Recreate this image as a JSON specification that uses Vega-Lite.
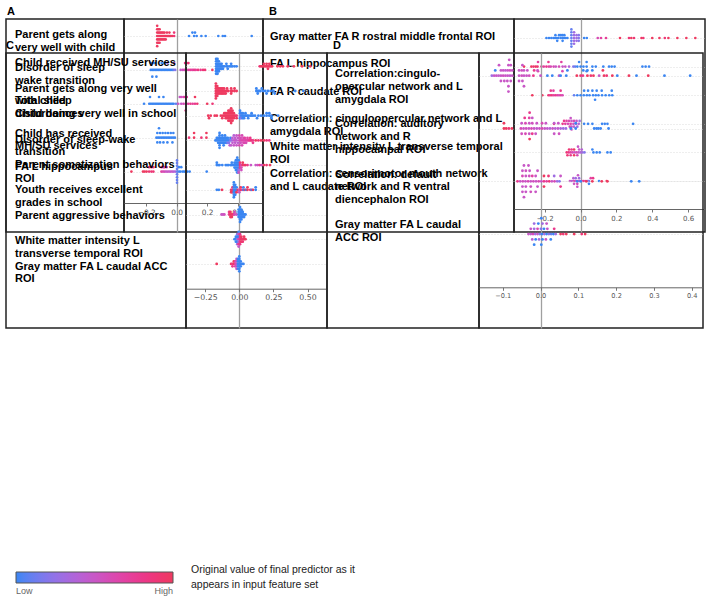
{
"$schema":"https://vega.github.io/schema/vega-lite/v6.json",
"background":"white",
"padding":5,
"bounds":"flush",
"spacing":34,
"config":{"view":{"stroke":"#222","strokeWidth":1.5},"title":{"fontSize":11,"fontWeight":"bold","font":"Liberation Sans","anchor":"start","offset":2,"color":"#000"}},
"vconcat":[
{"hconcat":[
{"width":118,"height":213,"title":{"text":"A","dx":1},"data":{"values":[{"f":10,"t":"Parent gets along\nvery well with child"},{"f":20,"t":"Disorder of sleep\nwake transition"},{"f":30,"t":"Total sleep\ndisturbances"},{"f":40,"t":"Child has received\nMH/SU services"},{"f":50,"t":"FA L hippocampus\nROI"}]},
 "mark":{"type":"text","align":"left","baseline":"alphabetic","dx":9,"fontSize":11,"fontWeight":"bold","font":"Liberation Sans","lineBreak":"\n","lineHeight":12.5,"color":"#000"},
 "encoding":{"x":{"value":0},"y":{"field":"f","type":"quantitative","scale":{"domain":[4.134,68.88],"reverse":true,"nice":false,"zero":false},"axis":null},"text":{"field":"t"}}},
{"width":139,"height":213,"data":{"values":[
{"v":-0.128,"y":7,"c":1},{"v":-0.128,"y":8,"c":1},{"v":-0.128,"y":9,"c":1},{"v":-0.128,"y":10,"c":1},{"v":-0.128,"y":11,"c":1},{"v":-0.128,"y":12,"c":1},{"v":-0.128,"y":13,"c":1},
{"v":-0.12,"y":8,"c":1},{"v":-0.12,"y":9,"c":1},{"v":-0.12,"y":10,"c":1},{"v":-0.12,"y":11,"c":1},{"v":-0.12,"y":12,"c":1},
{"v":-0.112,"y":8,"c":1},{"v":-0.112,"y":9,"c":1},{"v":-0.112,"y":10,"c":1},{"v":-0.112,"y":11,"c":1},{"v":-0.112,"y":12,"c":1},
{"v":-0.104,"y":9,"c":1},{"v":-0.104,"y":10,"c":1},{"v":-0.104,"y":11,"c":1},
{"v":-0.096,"y":9,"c":1},{"v":-0.096,"y":10,"c":1},{"v":-0.096,"y":11,"c":1},
{"v":-0.088,"y":9,"c":1},{"v":-0.088,"y":10,"c":1},{"v":-0.088,"y":11,"c":1},
{"v":-0.08,"y":9,"c":1},{"v":-0.08,"y":10,"c":1},{"v":-0.08,"y":11,"c":1},
{"v":-0.072,"y":10,"c":1},{"v":-0.072,"y":11,"c":1},{"v":-0.064,"y":9,"c":1},{"v":-0.064,"y":10,"c":1},{"v":-0.056,"y":10,"c":1},{"v":-0.048,"y":9,"c":1},{"v":-0.048,"y":10,"c":1},{"v":-0.04,"y":10,"c":1},{"v":-0.03,"y":10,"c":1},{"v":-0.017,"y":9,"c":0.9},{"v":-0.017,"y":10,"c":0.9},
{"v":0.081,"y":10,"c":0},{"v":0.103,"y":9,"c":0},{"v":0.114,"y":10,"c":0},{"v":0.12,"y":9,"c":0},{"v":0.131,"y":10,"c":0},{"v":0.162,"y":10,"c":0},{"v":0.19,"y":10,"c":0},{"v":0.273,"y":10,"c":0},{"v":0.302,"y":10,"c":0},{"v":0.317,"y":10,"c":0},{"v":0.492,"y":10,"c":0},
{"v":-0.17,"y":18,"c":0},{"v":-0.157,"y":18,"c":0},{"v":-0.144,"y":18,"c":0},{"v":-0.098,"y":18,"c":0},{"v":-0.083,"y":18,"c":0},{"v":-0.061,"y":18,"c":0.3},{"v":-0.017,"y":18,"c":0.5},{"v":0.055,"y":18,"c":0.8},{"v":0.066,"y":18,"c":0.8},{"v":0.077,"y":18,"c":0.9},
{"v":-0.17,"y":20,"c":0},{"v":-0.16,"y":20,"c":0},{"v":-0.15,"y":20,"c":0},{"v":-0.14,"y":20,"c":0},{"v":-0.13,"y":20,"c":0},{"v":-0.12,"y":20,"c":0},{"v":-0.11,"y":20,"c":0},{"v":-0.1,"y":20,"c":0},{"v":-0.09,"y":20,"c":0},{"v":-0.08,"y":20,"c":0},{"v":-0.07,"y":20,"c":0},{"v":-0.06,"y":20,"c":0},{"v":-0.05,"y":20,"c":0},{"v":-0.04,"y":20,"c":0},{"v":-0.03,"y":20,"c":0},{"v":-0.02,"y":20,"c":0.1},{"v":-0.01,"y":20,"c":0.2},
{"v":0.026,"y":20,"c":0.5},{"v":0.04,"y":20,"c":0.55},{"v":0.052,"y":20,"c":0.6},{"v":0.066,"y":20,"c":0.65},{"v":0.08,"y":20,"c":0.7},{"v":0.092,"y":20,"c":0.75},{"v":0.103,"y":20,"c":0.7},{"v":0.114,"y":20,"c":0.8},{"v":0.125,"y":20,"c":0.75},{"v":0.14,"y":20,"c":0.85},{"v":0.157,"y":20,"c":0.8},{"v":0.173,"y":20,"c":0.9},{"v":0.186,"y":20,"c":0.9},{"v":0.234,"y":20,"c":1},
{"v":-0.16,"y":22,"c":0},{"v":-0.133,"y":22,"c":0},
{"v":-0.175,"y":28,"c":0},{"v":-0.116,"y":28,"c":0},{"v":-0.087,"y":28,"c":0},{"v":0.02,"y":28,"c":0.5},{"v":0.03,"y":28,"c":0.55},{"v":0.044,"y":28,"c":0.6},{"v":0.055,"y":28,"c":0.75},{"v":0.066,"y":28,"c":0.7},{"v":0.12,"y":28,"c":1},
{"v":-0.214,"y":30,"c":0},{"v":-0.18,"y":30,"c":0},{"v":-0.17,"y":30,"c":0},{"v":-0.16,"y":30,"c":0},{"v":-0.15,"y":30,"c":0},{"v":-0.14,"y":30,"c":0},{"v":-0.13,"y":30,"c":0},{"v":-0.12,"y":30,"c":0},{"v":-0.11,"y":30,"c":0},{"v":-0.1,"y":30,"c":0},{"v":-0.09,"y":30,"c":0},{"v":-0.08,"y":30,"c":0},{"v":-0.07,"y":30,"c":0},{"v":-0.06,"y":30,"c":0},{"v":-0.05,"y":30,"c":0},{"v":-0.04,"y":30,"c":0},{"v":-0.03,"y":30,"c":0},{"v":-0.02,"y":30,"c":0},{"v":-0.005,"y":30,"c":0.1},
{"v":0.01,"y":30,"c":0.5},{"v":0.03,"y":30,"c":0.5},{"v":0.045,"y":30,"c":0.6},{"v":0.06,"y":30,"c":0.6},{"v":0.075,"y":30,"c":0.7},{"v":0.09,"y":30,"c":0.8},{"v":0.105,"y":30,"c":0.75},{"v":0.12,"y":30,"c":0.8},{"v":0.135,"y":30,"c":0.9},{"v":0.2,"y":30,"c":1},{"v":0.235,"y":30,"c":0.9},
{"v":0.059,"y":32,"c":0.8},
{"v":-0.116,"y":37.2,"c":0},
{"v":-0.127,"y":38.6,"c":0},{"v":-0.109,"y":38.6,"c":0},{"v":-0.092,"y":38.6,"c":0},{"v":-0.074,"y":38.6,"c":0},{"v":-0.057,"y":38.6,"c":0},{"v":-0.039,"y":38.6,"c":0},{"v":-0.022,"y":38.6,"c":0},{"v":0.114,"y":38.6,"c":1},{"v":0.195,"y":38.6,"c":1},
{"v":-0.133,"y":40,"c":0},{"v":-0.122,"y":40,"c":0},{"v":-0.111,"y":40,"c":0},{"v":-0.1,"y":40,"c":0},{"v":-0.089,"y":40,"c":0},{"v":-0.078,"y":40,"c":0},{"v":-0.067,"y":40,"c":0},{"v":-0.056,"y":40,"c":0},{"v":-0.045,"y":40,"c":0},{"v":-0.034,"y":40,"c":0},{"v":-0.023,"y":40,"c":0},{"v":-0.012,"y":40,"c":0},{"v":0.081,"y":40,"c":0.9},{"v":0.114,"y":40,"c":1},{"v":0.162,"y":40,"c":0.9},{"v":0.195,"y":40,"c":1},
{"v":-0.127,"y":41.4,"c":0},{"v":-0.109,"y":41.4,"c":0},{"v":-0.087,"y":41.4,"c":0},{"v":-0.061,"y":41.4,"c":0},{"v":-0.028,"y":41.4,"c":0},
{"v":-0.297,"y":50,"c":1},{"v":-0.221,"y":50,"c":1},{"v":-0.21,"y":50,"c":1},{"v":-0.197,"y":50,"c":1},{"v":-0.181,"y":50,"c":0.9},{"v":-0.166,"y":50,"c":0.9},{"v":-0.153,"y":50,"c":0.9},{"v":-0.1,"y":50,"c":0.7},{"v":-0.09,"y":50,"c":0.6},{"v":-0.08,"y":50,"c":0.6},{"v":-0.07,"y":50,"c":0.5},{"v":-0.06,"y":50,"c":0.5},{"v":-0.05,"y":50,"c":0.5},{"v":-0.04,"y":50,"c":0.45},{"v":-0.03,"y":50,"c":0.5},{"v":-0.02,"y":50,"c":0.4},{"v":-0.01,"y":50,"c":0.4},{"v":0.015,"y":50,"c":0},{"v":0.025,"y":50,"c":0},{"v":0.04,"y":50,"c":0},{"v":0.05,"y":50,"c":0},{"v":0.07,"y":50,"c":0},{"v":0.085,"y":50,"c":0},{"v":0.197,"y":50,"c":0},
{"v":-0.181,"y":48.7,"c":0.9},{"v":-0.166,"y":48.7,"c":0.9},{"v":-0.153,"y":48.7,"c":0.9},{"v":-0.1,"y":48.7,"c":0.8},{"v":-0.087,"y":48.7,"c":0.8},{"v":-0.079,"y":48.7,"c":0.6},{"v":-0.066,"y":48.7,"c":0.6},{"v":0.015,"y":48.7,"c":0},{"v":0.03,"y":48.7,"c":0},
{"v":0.002,"y":46.7,"c":0.1},{"v":0.002,"y":47.5,"c":0.1},{"v":0.002,"y":48.3,"c":0.1},{"v":0.002,"y":49.2,"c":0.1},{"v":0.002,"y":50,"c":0.1},{"v":0.002,"y":50.8,"c":0.1},{"v":0.002,"y":51.7,"c":0.1},{"v":0.002,"y":52.5,"c":0.1},{"v":0.002,"y":53.3,"c":0.1}
 ]},"mark":{"type":"circle","size":7,"opacity":1},
  "encoding":{
   "x":{"field":"v","type":"quantitative","scale":{"domain":[-0.3456,0.566],"nice":false,"zero":false},"axis":{"offset":-29,"domain":true,"domainColor":"#666","grid":true,"gridColor":{"condition":{"test":"datum.value === 0","value":"#a0a0a0"},"value":"transparent"},"gridWidth":1.3,"tickSize":3,"tickColor":"#777","labelFontSize":7.4,"labelFont":"DejaVu Sans","labelColor":"#555","labelPadding":2,"values":[-0.2,0,0.2,0.4],"format":".1f","title":null}},
   "y":{"field":"y","type":"quantitative","scale":{"domain":[4.985,67.82],"reverse":true,"nice":false,"zero":false},"axis":{"values":[10,20,30,40,50],"labels":false,"ticks":false,"domain":false,"grid":true,"gridColor":"#d4d4d4","gridDash":[1,2],"gridWidth":0.8,"title":null}},
   "color":{"field":"c","type":"quantitative","scale":{"domain":[0,1],"range":["#3b86f2","#ee3a60"]},
    "legend":{"orient":"none","legendX":10,"legendY":553,"direction":"horizontal","gradientLength":157,"gradientThickness":11,"gradientStrokeColor":"#555","gradientStrokeWidth":1,"values":[0,1],"labelExpr":"datum.value < 0.5 ? '\u00a0\u00a0\u00a0Low' : 'High\u00a0\u00a0\u00a0'","labelFontSize":9,"labelFont":"Liberation Sans","labelColor":"#666","labelOffset":4,"title":["Original value of final predictor as it","appears in input feature set"],"titleOrient":"right","titleFontSize":10.5,"titleFontWeight":"normal","titleFont":"Liberation Sans","titleColor":"#222","titlePadding":17,"titleLineHeight":15}}
  }},
{"width":251,"height":213,"title":{"text":"B","dx":6},"data":{"values":[{"f":10,"t":"Gray matter FA R rostral middle frontal ROI"},{"f":20,"t":"FA L hippocampus ROI"},{"f":30,"t":"FA R caudate ROI"},{"f":40,"t":"Correlation: cinguloopercular network and L\namygdala ROI"},{"f":50,"t":"White matter intensity L transverse temporal\nROI"},{"f":60,"t":"Correlation: sensorimotor mouth network\nand L caudate ROI"}]},
 "mark":{"type":"text","align":"left","baseline":"alphabetic","dx":7,"fontSize":11,"fontWeight":"bold","font":"Liberation Sans","lineBreak":"\n","lineHeight":13,"color":"#000"},
 "encoding":{"x":{"value":0},"y":{"field":"f","type":"quantitative","scale":{"domain":[2.545,80.0],"reverse":true,"nice":false,"zero":false},"axis":null},"text":{"field":"t"}}},
{"width":191,"height":213,"data":{"values":[
{"v":-0.19,"y":10,"c":0},{"v":-0.176,"y":10,"c":0},{"v":-0.163,"y":10,"c":0},{"v":-0.151,"y":10,"c":0},{"v":-0.142,"y":10,"c":0},{"v":-0.133,"y":10,"c":0},{"v":-0.124,"y":10,"c":0},{"v":-0.111,"y":10,"c":0},{"v":-0.101,"y":10,"c":0},{"v":-0.092,"y":10,"c":0},{"v":-0.083,"y":10,"c":0},{"v":-0.073,"y":10,"c":0},
{"v":-0.14,"y":9,"c":0},{"v":-0.12,"y":9,"c":0},{"v":-0.11,"y":9,"c":0},{"v":-0.1,"y":9,"c":0},{"v":-0.09,"y":9,"c":0},{"v":-0.13,"y":11,"c":0},{"v":-0.1,"y":11,"c":0},
{"v":-0.051,"y":7,"c":0.1},{"v":-0.051,"y":8,"c":0.1},{"v":-0.051,"y":9,"c":0.1},{"v":-0.051,"y":10,"c":0.1},{"v":-0.051,"y":11,"c":0.1},{"v":-0.051,"y":12,"c":0.1},{"v":-0.051,"y":13,"c":0.1},
{"v":-0.036,"y":8,"c":0.3},{"v":-0.036,"y":9,"c":0.3},{"v":-0.036,"y":10,"c":0.3},{"v":-0.036,"y":11,"c":0.3},{"v":-0.036,"y":12,"c":0.3},
{"v":-0.022,"y":9,"c":0.3},{"v":-0.022,"y":10,"c":0.3},{"v":-0.022,"y":11,"c":0.3},{"v":-0.01,"y":9,"c":0.2},{"v":-0.01,"y":10,"c":0.2},{"v":-0.01,"y":11,"c":0.2},
{"v":0.02,"y":10,"c":0},{"v":0.035,"y":10,"c":0},{"v":0.096,"y":10,"c":0.6},{"v":0.114,"y":10,"c":0.7},{"v":0.142,"y":10,"c":0.75},{"v":0.22,"y":10,"c":1},{"v":0.27,"y":10,"c":0.9},{"v":0.283,"y":10,"c":1},{"v":0.298,"y":10,"c":0.9},{"v":0.34,"y":10,"c":1},{"v":0.35,"y":10,"c":0.9},{"v":0.4,"y":10,"c":1},{"v":0.44,"y":10,"c":1},{"v":0.47,"y":10,"c":0.9},{"v":0.49,"y":10,"c":1},{"v":0.54,"y":10,"c":1},{"v":0.59,"y":10,"c":1},{"v":0.64,"y":10,"c":1},
{"v":-0.237,"y":18.4,"c":0.7},{"v":-0.179,"y":18.4,"c":0.8},{"v":-0.107,"y":18.4,"c":0.7},{"v":-0.008,"y":18.4,"c":0},{"v":0.034,"y":18.4,"c":0},
{"v":-0.315,"y":20,"c":1},{"v":-0.274,"y":20,"c":1},{"v":-0.262,"y":20,"c":0.9},{"v":-0.25,"y":20,"c":1},{"v":-0.24,"y":20,"c":0.9},{"v":-0.218,"y":20,"c":0.8},{"v":-0.205,"y":20,"c":0.7},{"v":-0.19,"y":20,"c":0.8},{"v":-0.176,"y":20,"c":0.7},{"v":-0.166,"y":20,"c":0.6},{"v":-0.15,"y":20,"c":0.6},{"v":-0.138,"y":20,"c":0.5},{"v":-0.12,"y":20,"c":0.6},{"v":-0.1,"y":20,"c":0.5},{"v":-0.085,"y":20,"c":0.5},{"v":-0.064,"y":20,"c":0.4},{"v":-0.04,"y":20,"c":0.2},{"v":-0.03,"y":20,"c":0.1},{"v":-0.018,"y":20,"c":0},{"v":0,"y":20,"c":0},{"v":0.016,"y":20,"c":0},{"v":0.034,"y":20,"c":0},{"v":0.066,"y":20,"c":0},{"v":0.085,"y":20,"c":0},{"v":0.127,"y":20,"c":0},{"v":0.159,"y":20,"c":0},{"v":0.174,"y":20,"c":0},{"v":0.19,"y":20,"c":0},{"v":0.345,"y":20,"c":0},{"v":0.363,"y":20,"c":0},{"v":0.382,"y":20,"c":0},
{"v":-0.237,"y":21.6,"c":0.7},{"v":-0.101,"y":21.6,"c":0.6},{"v":0.034,"y":21.6,"c":0},
{"v":-0.166,"y":28.4,"c":0.8},{"v":-0.151,"y":28.4,"c":0.7},{"v":-0.111,"y":28.4,"c":0.8},{"v":0.02,"y":28.4,"c":0},{"v":0.042,"y":28.4,"c":0},{"v":0.066,"y":28.4,"c":0},{"v":0.09,"y":28.4,"c":0},{"v":0.118,"y":28.4,"c":0},{"v":0.174,"y":28.4,"c":0},
{"v":-0.269,"y":30,"c":1},{"v":-0.213,"y":30,"c":1},{"v":-0.179,"y":30,"c":0.9},{"v":-0.17,"y":30,"c":0.8},{"v":-0.16,"y":30,"c":0.9},{"v":-0.15,"y":30,"c":0.7},{"v":-0.14,"y":30,"c":0.8},{"v":-0.13,"y":30,"c":0.7},{"v":-0.12,"y":30,"c":0.6},{"v":-0.11,"y":30,"c":0.7},{"v":-0.1,"y":30,"c":0.6},{"v":-0.036,"y":30,"c":0.1},{"v":-0.018,"y":30,"c":0},{"v":0,"y":30,"c":0},{"v":0.018,"y":30,"c":0},{"v":0.035,"y":30,"c":0},{"v":0.05,"y":30,"c":0},{"v":0.07,"y":30,"c":0},{"v":0.085,"y":30,"c":0},{"v":0.1,"y":30,"c":0},{"v":0.12,"y":30,"c":0},{"v":0.14,"y":30,"c":0},{"v":0.16,"y":30,"c":0},{"v":0.177,"y":30,"c":0},
{"v":0.081,"y":31.6,"c":0},
{"v":-0.055,"y":38,"c":0.5},
{"v":-0.092,"y":39,"c":0.8},{"v":-0.078,"y":39,"c":0.7},{"v":-0.064,"y":39,"c":0.6},{"v":-0.05,"y":39,"c":0.5},{"v":-0.036,"y":39,"c":0.6},{"v":-0.022,"y":39,"c":0.5},{"v":-0.005,"y":39,"c":0.3},
{"v":-0.148,"y":40,"c":1},{"v":-0.1,"y":40,"c":0.8},{"v":-0.085,"y":40,"c":0.7},{"v":-0.07,"y":40,"c":0.6},{"v":-0.055,"y":40,"c":0.7},{"v":-0.04,"y":40,"c":0.5},{"v":-0.025,"y":40,"c":0.6},{"v":-0.01,"y":40,"c":0.4},{"v":0.02,"y":40,"c":0},{"v":0.042,"y":40,"c":0},{"v":0.066,"y":40,"c":0},{"v":0.12,"y":40,"c":0},{"v":0.135,"y":40,"c":0},{"v":0.15,"y":40,"c":0},{"v":0.293,"y":40,"c":0},
{"v":-0.06,"y":41,"c":0.6},{"v":-0.05,"y":41,"c":0.5},{"v":-0.036,"y":41,"c":0.4},{"v":-0.018,"y":41,"c":0.3},{"v":-0.05,"y":42,"c":0.5},
{"v":-0.014,"y":48,"c":0.5},
{"v":-0.064,"y":49,"c":0.9},{"v":-0.05,"y":49,"c":0.8},{"v":-0.036,"y":49,"c":1},{"v":-0.008,"y":49,"c":0.5},{"v":0.007,"y":49,"c":0.4},{"v":0.066,"y":49,"c":0},
{"v":-0.077,"y":50,"c":0.9},{"v":-0.066,"y":50,"c":0.8},{"v":-0.055,"y":50,"c":0.7},{"v":-0.044,"y":50,"c":0.6},{"v":-0.033,"y":50,"c":0.5},{"v":-0.022,"y":50,"c":0.6},{"v":-0.011,"y":50,"c":0.5},{"v":0,"y":50,"c":0.4},{"v":0.011,"y":50,"c":0.3},{"v":0.022,"y":50,"c":0.2},{"v":0.072,"y":50,"c":0},{"v":0.09,"y":50,"c":0},{"v":0.107,"y":50,"c":0},{"v":0.15,"y":50,"c":0},{"v":0.168,"y":50,"c":0},
{"v":-0.073,"y":51,"c":0.9},{"v":-0.055,"y":51,"c":0.8},{"v":-0.036,"y":51,"c":1},{"v":-0.018,"y":51,"c":0.6},
{"v":-0.014,"y":58,"c":0.5},
{"v":-0.04,"y":59,"c":0.4},{"v":-0.027,"y":59,"c":0.3},{"v":-0.008,"y":59,"c":0.3},{"v":0.057,"y":59,"c":0.7},{"v":0.07,"y":59,"c":0.8},
{"v":-0.059,"y":60,"c":0.5},{"v":-0.048,"y":60,"c":0.4},{"v":-0.037,"y":60,"c":0.6},{"v":-0.026,"y":60,"c":0.5},{"v":-0.015,"y":60,"c":0.7},{"v":-0.004,"y":60,"c":0.5},{"v":0.007,"y":60,"c":0.6},{"v":0.018,"y":60,"c":0.8},{"v":0.03,"y":60,"c":0.5},{"v":0.04,"y":60,"c":0.3},{"v":0.047,"y":60,"c":0.2},{"v":0.103,"y":60,"c":0},{"v":0.146,"y":60,"c":1},
{"v":-0.036,"y":61,"c":0.5},{"v":-0.018,"y":61,"c":0.6},{"v":0.047,"y":61,"c":0},{"v":-0.018,"y":62,"c":0.5}
 ]},"mark":{"type":"circle","size":7,"opacity":1},
  "encoding":{
   "x":{"field":"v","type":"quantitative","scale":{"domain":[-0.371,0.694],"nice":false,"zero":false},"axis":{"offset":-23,"domain":true,"domainColor":"#666","grid":true,"gridColor":{"condition":{"test":"datum.value === 0","value":"#a0a0a0"},"value":"transparent"},"gridWidth":1.3,"tickSize":3,"tickColor":"#777","labelFontSize":7,"labelFont":"DejaVu Sans","labelColor":"#555","labelPadding":2,"values":[-0.2,0,0.2,0.4,0.6],"format":".1f","title":null}},
   "y":{"field":"y","type":"quantitative","scale":{"domain":[3.357,77.83],"reverse":true,"nice":false,"zero":false},"axis":{"values":[10,20,30,40,50,60],"labels":false,"ticks":false,"domain":false,"grid":true,"gridColor":"#d4d4d4","gridDash":[1,2],"gridWidth":0.8,"title":null}},
   "color":{"field":"c","type":"quantitative","scale":{"domain":[0,1],"range":["#3b86f2","#ee3a60"]},
    "legend":{"orient":"none","legendX":10,"legendY":553,"direction":"horizontal","gradientLength":157,"gradientThickness":11,"gradientStrokeColor":"#555","gradientStrokeWidth":1,"values":[0,1],"labelExpr":"datum.value < 0.5 ? '\u00a0\u00a0\u00a0Low' : 'High\u00a0\u00a0\u00a0'","labelFontSize":9,"labelFont":"Liberation Sans","labelColor":"#666","labelOffset":4,"title":["Original value of final predictor as it","appears in input feature set"],"titleOrient":"right","titleFontSize":10.5,"titleFontWeight":"normal","titleFont":"Liberation Sans","titleColor":"#222","titlePadding":17,"titleLineHeight":15}}
  }}
],"spacing":0,"bounds":"flush"},
{"hconcat":[
{"width":180,"height":275,"title":{"text":"C","dx":0},"data":{"values":[{"f":10,"t":"Child received MH/SU services"},{"f":20,"t":"Parent gets along very well\nwith child"},{"f":30,"t":"Child doing very well in school"},{"f":40,"t":"Disorder of sleep-wake\ntransition"},{"f":50,"t":"Parent somatization behaviors"},{"f":60,"t":"Youth receives excellent\ngrades in school"},{"f":70,"t":"Parent aggressive behaviors"},{"f":80,"t":"White matter intensity L\ntransverse temporal ROI"},{"f":90,"t":"Gray matter FA L caudal ACC\nROI"}]},
 "mark":{"type":"text","align":"left","baseline":"alphabetic","dx":9,"fontSize":11,"fontWeight":"bold","font":"Liberation Sans","lineBreak":"\n","lineHeight":12.7,"color":"#000"},
 "encoding":{"x":{"value":0},"y":{"field":"f","type":"quantitative","scale":{"domain":[4.811,112.91],"reverse":true,"nice":false,"zero":false},"axis":null},"text":{"field":"t"}}},
{"width":141,"height":275,"data":{"values":[
{"v":-0.17,"y":7,"c":0},{"v":-0.17,"y":8,"c":0},{"v":-0.17,"y":9,"c":0},{"v":-0.17,"y":10,"c":0},{"v":-0.17,"y":11,"c":0},{"v":-0.17,"y":12,"c":0},{"v":-0.17,"y":13,"c":0},
{"v":-0.16,"y":7,"c":0},{"v":-0.16,"y":8,"c":0},{"v":-0.16,"y":9,"c":0},{"v":-0.16,"y":10,"c":0},{"v":-0.16,"y":11,"c":0},{"v":-0.16,"y":12,"c":0},{"v":-0.16,"y":13,"c":0},
{"v":-0.15,"y":8,"c":0},{"v":-0.15,"y":9,"c":0},{"v":-0.15,"y":10,"c":0},{"v":-0.15,"y":11,"c":0},{"v":-0.15,"y":12,"c":0},
{"v":-0.14,"y":9,"c":0},{"v":-0.14,"y":10,"c":0},{"v":-0.14,"y":11,"c":0},{"v":-0.13,"y":9,"c":0},{"v":-0.13,"y":10,"c":0},{"v":-0.13,"y":11,"c":0},
{"v":-0.12,"y":10,"c":0},{"v":-0.12,"y":11,"c":0},{"v":-0.11,"y":10,"c":0},{"v":-0.095,"y":9,"c":0},{"v":-0.095,"y":10,"c":0},{"v":-0.085,"y":10,"c":0},{"v":-0.085,"y":11,"c":0},{"v":-0.07,"y":10,"c":0},{"v":-0.06,"y":9,"c":0},{"v":-0.06,"y":10,"c":0},{"v":-0.05,"y":10,"c":0},{"v":-0.035,"y":10,"c":0},{"v":-0.02,"y":10,"c":0},
{"v":0.15,"y":10,"c":0.9},{"v":0.16,"y":10,"c":1},{"v":0.17,"y":10,"c":1},{"v":0.18,"y":10,"c":1},{"v":0.19,"y":10,"c":1},{"v":0.2,"y":10,"c":1},{"v":0.21,"y":10,"c":1},{"v":0.22,"y":10,"c":1},{"v":0.23,"y":10,"c":0.9},{"v":0.24,"y":10,"c":1},
{"v":0.18,"y":9,"c":1},{"v":0.2,"y":9,"c":1},{"v":0.21,"y":11,"c":1},{"v":0.22,"y":9,"c":1},
{"v":0.28,"y":10,"c":1},{"v":0.3,"y":10,"c":1},{"v":0.32,"y":10,"c":1},{"v":0.355,"y":10,"c":1},{"v":0.4,"y":10,"c":1},{"v":0.46,"y":10,"c":1},{"v":0.52,"y":10,"c":1},
{"v":-0.172,"y":17,"c":1},{"v":-0.172,"y":18,"c":1},{"v":-0.172,"y":19,"c":1},{"v":-0.172,"y":20,"c":1},{"v":-0.172,"y":21,"c":1},{"v":-0.172,"y":22,"c":1},{"v":-0.172,"y":23,"c":1},
{"v":-0.162,"y":18,"c":1},{"v":-0.162,"y":19,"c":1},{"v":-0.162,"y":20,"c":1},{"v":-0.162,"y":21,"c":1},{"v":-0.162,"y":22,"c":1},
{"v":-0.152,"y":19,"c":1},{"v":-0.152,"y":20,"c":1},{"v":-0.152,"y":21,"c":1},{"v":-0.142,"y":19,"c":1},{"v":-0.142,"y":20,"c":1},{"v":-0.142,"y":21,"c":1},
{"v":-0.132,"y":19,"c":1},{"v":-0.132,"y":20,"c":1},{"v":-0.132,"y":21,"c":1},{"v":-0.122,"y":19,"c":1},{"v":-0.122,"y":20,"c":1},{"v":-0.122,"y":21,"c":1},
{"v":-0.112,"y":19,"c":1},{"v":-0.112,"y":20,"c":1},{"v":-0.112,"y":21,"c":1},{"v":-0.1,"y":20,"c":1},{"v":-0.1,"y":21,"c":1},{"v":-0.09,"y":19,"c":1},{"v":-0.09,"y":20,"c":1},{"v":-0.08,"y":20,"c":1},
{"v":-0.06,"y":19,"c":1},{"v":-0.06,"y":20,"c":1},{"v":-0.06,"y":21,"c":1},{"v":-0.05,"y":20,"c":1},{"v":-0.035,"y":19,"c":1},{"v":-0.035,"y":20,"c":1},{"v":-0.02,"y":20,"c":1},
{"v":0.125,"y":19,"c":0},{"v":0.125,"y":20,"c":0},{"v":0.135,"y":20,"c":0},{"v":0.135,"y":21,"c":0},{"v":0.145,"y":20,"c":0},{"v":0.155,"y":20,"c":0},{"v":0.165,"y":19,"c":0},{"v":0.175,"y":20,"c":0},{"v":0.19,"y":20,"c":0},{"v":0.2,"y":21,"c":0},{"v":0.21,"y":20,"c":0},{"v":0.23,"y":20,"c":0},{"v":0.25,"y":20,"c":0},{"v":0.26,"y":21,"c":0},{"v":0.41,"y":20,"c":0},{"v":0.47,"y":20,"c":0},
{"v":-0.228,"y":30,"c":1},{"v":-0.222,"y":31,"c":1},{"v":-0.21,"y":30,"c":1},{"v":-0.18,"y":30,"c":1},{"v":-0.165,"y":30,"c":1},{"v":-0.135,"y":30,"c":1},{"v":-0.125,"y":31,"c":1},{"v":-0.12,"y":30,"c":1},
{"v":-0.11,"y":29,"c":1},{"v":-0.11,"y":30,"c":1},{"v":-0.1,"y":29,"c":1},{"v":-0.1,"y":30,"c":1},{"v":-0.1,"y":31,"c":1},{"v":-0.09,"y":29,"c":1},{"v":-0.09,"y":30,"c":1},{"v":-0.09,"y":31,"c":1},
{"v":-0.08,"y":28,"c":1},{"v":-0.08,"y":29,"c":1},{"v":-0.08,"y":30,"c":1},{"v":-0.08,"y":31,"c":1},{"v":-0.08,"y":32,"c":1},
{"v":-0.07,"y":28,"c":1},{"v":-0.07,"y":29,"c":1},{"v":-0.07,"y":30,"c":1},{"v":-0.07,"y":31,"c":1},{"v":-0.07,"y":32,"c":1},
{"v":-0.06,"y":27,"c":1},{"v":-0.06,"y":28,"c":1},{"v":-0.06,"y":29,"c":1},{"v":-0.06,"y":30,"c":1},{"v":-0.06,"y":31,"c":1},{"v":-0.06,"y":32,"c":1},{"v":-0.06,"y":33,"c":1},
{"v":-0.05,"y":28,"c":1},{"v":-0.05,"y":29,"c":1},{"v":-0.05,"y":30,"c":1},{"v":-0.05,"y":31,"c":1},{"v":-0.05,"y":32,"c":1},
{"v":-0.04,"y":29,"c":1},{"v":-0.04,"y":30,"c":1},{"v":-0.04,"y":31,"c":1},{"v":-0.03,"y":30,"c":1},{"v":-0.02,"y":30,"c":0.9},{"v":-0.02,"y":31,"c":1},
{"v":0.005,"y":28,"c":0},{"v":0.005,"y":29,"c":0},{"v":0.005,"y":30,"c":0.2},{"v":0.005,"y":31,"c":0},{"v":0.015,"y":29,"c":0},{"v":0.015,"y":30,"c":0},{"v":0.015,"y":31,"c":0.2},
{"v":0.025,"y":29,"c":0},{"v":0.025,"y":30,"c":0},{"v":0.025,"y":31,"c":0},{"v":0.035,"y":30,"c":0},{"v":0.035,"y":31,"c":0},{"v":0.045,"y":29,"c":0},{"v":0.045,"y":30,"c":0},{"v":0.055,"y":30,"c":0},{"v":0.065,"y":30,"c":0},{"v":0.065,"y":31,"c":0},
{"v":0.08,"y":30,"c":0},{"v":0.09,"y":29,"c":0},{"v":0.09,"y":30,"c":0},{"v":0.1,"y":30,"c":0},{"v":0.115,"y":30,"c":0},{"v":0.13,"y":31,"c":0},{"v":0.14,"y":30,"c":0},{"v":0.16,"y":30,"c":0},{"v":0.18,"y":30,"c":0},{"v":0.2,"y":29,"c":0},{"v":0.2,"y":30,"c":0},{"v":0.22,"y":29,"c":0},{"v":0.22,"y":30,"c":0},{"v":0.235,"y":30,"c":0},{"v":0.235,"y":31,"c":0},{"v":0.285,"y":30,"c":0},
{"v":-0.175,"y":40,"c":0},{"v":-0.165,"y":39,"c":0},{"v":-0.165,"y":40,"c":0},{"v":-0.155,"y":39,"c":0},{"v":-0.155,"y":40,"c":0},{"v":-0.155,"y":41,"c":0},
{"v":-0.145,"y":37,"c":0},{"v":-0.145,"y":38,"c":0},{"v":-0.145,"y":39,"c":0},{"v":-0.145,"y":40,"c":0},{"v":-0.145,"y":41,"c":0},{"v":-0.145,"y":42,"c":0},{"v":-0.145,"y":43,"c":0},
{"v":-0.135,"y":39,"c":0},{"v":-0.135,"y":40,"c":0},{"v":-0.135,"y":41,"c":0},{"v":-0.125,"y":38,"c":0},{"v":-0.125,"y":39,"c":0},{"v":-0.125,"y":40,"c":0},{"v":-0.125,"y":41,"c":0},
{"v":-0.115,"y":39,"c":0},{"v":-0.115,"y":40,"c":0},{"v":-0.115,"y":41,"c":0},{"v":-0.115,"y":42,"c":0},{"v":-0.105,"y":38,"c":0},{"v":-0.105,"y":39,"c":0},{"v":-0.105,"y":40,"c":0},{"v":-0.105,"y":41,"c":0},
{"v":-0.095,"y":39,"c":0},{"v":-0.095,"y":40,"c":0},{"v":-0.095,"y":41,"c":0},{"v":-0.085,"y":39,"c":0},{"v":-0.085,"y":40,"c":0},{"v":-0.085,"y":41,"c":0.2},{"v":-0.075,"y":40,"c":0},{"v":-0.075,"y":41,"c":0.2},{"v":-0.065,"y":39,"c":0},{"v":-0.065,"y":40,"c":0.2},{"v":-0.055,"y":40,"c":0.3},
{"v":-0.07,"y":42,"c":0.45},{"v":-0.06,"y":42,"c":0.45},{"v":-0.05,"y":39,"c":0.45},{"v":-0.05,"y":41,"c":0.45},{"v":-0.04,"y":38,"c":0.4},{"v":-0.04,"y":40,"c":0.45},{"v":-0.04,"y":42,"c":0.5},
{"v":-0.03,"y":39,"c":0.45},{"v":-0.03,"y":40,"c":0.5},{"v":-0.03,"y":41,"c":0.45},{"v":-0.02,"y":38,"c":0.5},{"v":-0.02,"y":40,"c":0.45},{"v":-0.02,"y":42,"c":0.5},{"v":-0.01,"y":39,"c":0.5},{"v":-0.01,"y":41,"c":0.45},
{"v":0,"y":38,"c":0.6},{"v":0,"y":40,"c":0.55},{"v":0,"y":42,"c":0.6},{"v":0.01,"y":39,"c":0.6},{"v":0.01,"y":40,"c":0.6},{"v":0.01,"y":41,"c":0.55},{"v":0.02,"y":38,"c":0.6},{"v":0.02,"y":40,"c":0.65},{"v":0.02,"y":42,"c":0.6},
{"v":0.03,"y":39,"c":0.6},{"v":0.03,"y":40,"c":0.65},{"v":0.03,"y":41,"c":0.6},{"v":0.04,"y":39,"c":0.7},{"v":0.04,"y":40,"c":0.6},{"v":0.04,"y":41,"c":0.65},{"v":0.05,"y":40,"c":0.7},{"v":0.05,"y":41,"c":0.6},{"v":0.06,"y":39,"c":0.7},{"v":0.06,"y":40,"c":0.65},
{"v":0.07,"y":40,"c":0.8},{"v":0.08,"y":39,"c":0.8},{"v":0.08,"y":40,"c":0.8},{"v":0.09,"y":40,"c":0.9},{"v":0.1,"y":40,"c":0.8},{"v":0.1,"y":41,"c":0.8},{"v":0.12,"y":40,"c":1},{"v":0.14,"y":40,"c":0.9},{"v":0.16,"y":40,"c":1},{"v":0.18,"y":40,"c":1},{"v":0.2,"y":40,"c":0.9},{"v":0.22,"y":40,"c":0.8},
{"v":-0.165,"y":49,"c":0},{"v":-0.165,"y":50,"c":0},{"v":-0.155,"y":50,"c":0},{"v":-0.145,"y":50,"c":0},{"v":-0.125,"y":50,"c":0},{"v":-0.1,"y":50,"c":0},{"v":-0.09,"y":50,"c":0},{"v":-0.08,"y":50,"c":0},{"v":-0.065,"y":50,"c":0},{"v":-0.055,"y":49,"c":0},{"v":-0.055,"y":50,"c":0},{"v":-0.045,"y":50,"c":0},
{"v":-0.035,"y":49,"c":0},{"v":-0.035,"y":50,"c":0},{"v":-0.035,"y":51,"c":0},
{"v":-0.025,"y":48,"c":0},{"v":-0.025,"y":49,"c":0},{"v":-0.025,"y":50,"c":0},{"v":-0.025,"y":51,"c":0},{"v":-0.025,"y":52,"c":0},
{"v":-0.015,"y":47,"c":0},{"v":-0.015,"y":48,"c":0},{"v":-0.015,"y":49,"c":0},{"v":-0.015,"y":50,"c":0},{"v":-0.015,"y":51,"c":0},{"v":-0.015,"y":52,"c":0},{"v":-0.015,"y":53,"c":0},
{"v":-0.005,"y":48,"c":0},{"v":-0.005,"y":49,"c":0},{"v":-0.005,"y":50,"c":0},{"v":-0.005,"y":51,"c":0},{"v":-0.005,"y":52,"c":0.3},{"v":-0.005,"y":53,"c":0.5},
{"v":0.005,"y":49,"c":0.9},{"v":0.005,"y":50,"c":0.9},{"v":0.005,"y":51,"c":0.8},{"v":0.015,"y":50,"c":0.6},{"v":0.015,"y":51,"c":0.6},{"v":0.015,"y":52,"c":0.55},{"v":0.025,"y":49,"c":1},{"v":0.025,"y":50,"c":1},{"v":0.035,"y":50,"c":0.9},{"v":0.045,"y":50,"c":1},
{"v":0.06,"y":50,"c":0.8},{"v":0.085,"y":50,"c":0.5},{"v":0.12,"y":50,"c":0.5},{"v":0.135,"y":50,"c":0.55},{"v":0.15,"y":50,"c":0.75},{"v":0.165,"y":50,"c":0.5},{"v":0.18,"y":50,"c":1},{"v":0.2,"y":50,"c":0.9},{"v":0.225,"y":50,"c":1},
{"v":-0.165,"y":60,"c":0},{"v":-0.15,"y":60,"c":0},{"v":-0.127,"y":60,"c":1},{"v":-0.06,"y":60,"c":1},{"v":-0.06,"y":61,"c":1},{"v":-0.05,"y":59,"c":0.9},{"v":-0.05,"y":60,"c":0.9},{"v":-0.05,"y":61,"c":1},
{"v":-0.04,"y":57,"c":0},{"v":-0.04,"y":58,"c":0},{"v":-0.04,"y":59,"c":0},{"v":-0.04,"y":60,"c":0},{"v":-0.04,"y":61,"c":0},{"v":-0.04,"y":62,"c":0},{"v":-0.04,"y":63,"c":0},
{"v":-0.03,"y":58,"c":0},{"v":-0.03,"y":59,"c":0},{"v":-0.03,"y":60,"c":0},{"v":-0.03,"y":61,"c":0},{"v":-0.03,"y":62,"c":0},
{"v":-0.02,"y":59,"c":0},{"v":-0.02,"y":60,"c":0},{"v":-0.02,"y":61,"c":1},{"v":-0.01,"y":60,"c":1},{"v":0,"y":60,"c":0.5},{"v":0,"y":61,"c":0.5},{"v":0.01,"y":59,"c":1},{"v":0.01,"y":60,"c":1},{"v":0.02,"y":60,"c":0.8},{"v":0.03,"y":60,"c":0},{"v":0.03,"y":59,"c":0},
{"v":0.04,"y":60,"c":1},{"v":0.05,"y":60,"c":0},{"v":0.06,"y":59,"c":1},{"v":0.06,"y":60,"c":1},{"v":0.08,"y":60,"c":0.9},{"v":0.09,"y":60,"c":0},{"v":0.1,"y":60,"c":1},{"v":0.12,"y":60,"c":0},{"v":0.12,"y":59,"c":0},
{"v":-0.13,"y":70,"c":0.5},{"v":-0.12,"y":70,"c":0.5},{"v":-0.11,"y":70,"c":0.55},{"v":-0.075,"y":70,"c":0.8},{"v":-0.075,"y":69,"c":0.8},{"v":-0.065,"y":69,"c":1},{"v":-0.065,"y":70,"c":1},{"v":-0.065,"y":71,"c":1},{"v":-0.055,"y":70,"c":1},{"v":-0.055,"y":71,"c":1},{"v":-0.045,"y":70,"c":0.9},{"v":-0.035,"y":69,"c":0.6},{"v":-0.035,"y":70,"c":0.6},{"v":-0.02,"y":70,"c":0.5},
{"v":-0.005,"y":68,"c":0},{"v":-0.005,"y":69,"c":0},{"v":-0.005,"y":70,"c":0},{"v":-0.005,"y":71,"c":0},
{"v":0.005,"y":67,"c":0},{"v":0.005,"y":68,"c":0},{"v":0.005,"y":69,"c":0},{"v":0.005,"y":70,"c":0},{"v":0.005,"y":71,"c":0},{"v":0.005,"y":72,"c":0},{"v":0.005,"y":73,"c":0},
{"v":0.015,"y":68,"c":0},{"v":0.015,"y":69,"c":0},{"v":0.015,"y":70,"c":0},{"v":0.015,"y":71,"c":0},{"v":0.015,"y":72,"c":0},{"v":0.025,"y":69,"c":0},{"v":0.025,"y":70,"c":0},{"v":0.025,"y":71,"c":0},{"v":0.035,"y":70,"c":0},{"v":0.035,"y":71,"c":0},{"v":0.045,"y":70,"c":0},
{"v":-0.035,"y":80,"c":0},{"v":-0.025,"y":79,"c":0},{"v":-0.025,"y":80,"c":0},{"v":-0.025,"y":81,"c":0},
{"v":-0.015,"y":78,"c":0.2},{"v":-0.015,"y":79,"c":0},{"v":-0.015,"y":80,"c":0.2},{"v":-0.015,"y":81,"c":0},{"v":-0.015,"y":82,"c":0.3},
{"v":-0.005,"y":77,"c":0},{"v":-0.005,"y":78,"c":0.5},{"v":-0.005,"y":79,"c":0},{"v":-0.005,"y":80,"c":0.6},{"v":-0.005,"y":81,"c":0.3},{"v":-0.005,"y":82,"c":0.8},{"v":-0.005,"y":83,"c":0.5},
{"v":0.005,"y":78,"c":0.8},{"v":0.005,"y":79,"c":0.8},{"v":0.005,"y":80,"c":0.8},{"v":0.005,"y":81,"c":0.8},{"v":0.005,"y":82,"c":0.8},
{"v":0.015,"y":79,"c":1},{"v":0.015,"y":80,"c":1},{"v":0.015,"y":81,"c":1},{"v":0.025,"y":80,"c":0.9},{"v":0.025,"y":81,"c":0.9},{"v":0.035,"y":80,"c":1},{"v":0.035,"y":79,"c":1},{"v":0.045,"y":80,"c":1},
{"v":-0.166,"y":90,"c":1},{"v":-0.06,"y":90,"c":1},{"v":-0.05,"y":90,"c":0.8},{"v":-0.05,"y":91,"c":0.8},{"v":-0.04,"y":90,"c":1},{"v":-0.04,"y":89,"c":1},{"v":-0.03,"y":89,"c":0.7},{"v":-0.03,"y":90,"c":0.7},{"v":-0.03,"y":91,"c":0.7},
{"v":-0.02,"y":88,"c":0.5},{"v":-0.02,"y":89,"c":0.5},{"v":-0.02,"y":90,"c":0.5},{"v":-0.02,"y":91,"c":0.5},{"v":-0.02,"y":92,"c":0.5},
{"v":-0.01,"y":88,"c":0},{"v":-0.01,"y":89,"c":0},{"v":-0.01,"y":90,"c":0},{"v":-0.01,"y":91,"c":0},{"v":-0.01,"y":92,"c":0},
{"v":0,"y":87,"c":0},{"v":0,"y":88,"c":0},{"v":0,"y":89,"c":0},{"v":0,"y":90,"c":0},{"v":0,"y":91,"c":0},{"v":0,"y":92,"c":0},{"v":0,"y":93,"c":0},
{"v":0.01,"y":89,"c":0},{"v":0.01,"y":90,"c":0},{"v":0.01,"y":91,"c":0},{"v":0.02,"y":90,"c":0},{"v":0.03,"y":90,"c":0}
 ]},"mark":{"type":"circle","size":8,"opacity":1},
  "encoding":{
   "x":{"field":"v","type":"quantitative","scale":{"domain":[-0.391,0.643],"nice":false,"zero":false},"axis":{"offset":-39.3,"domain":true,"domainColor":"#666","grid":true,"gridColor":{"condition":{"test":"datum.value === 0","value":"#a0a0a0"},"value":"transparent"},"gridWidth":1.3,"tickSize":3,"tickColor":"#777","labelFontSize":7.8,"labelFont":"DejaVu Sans","labelColor":"#555","labelPadding":2,"values":[-0.25,0,0.25,0.5],"format":".2f","title":null}},
   "y":{"field":"y","type":"quantitative","scale":{"domain":[4.615,115.95],"reverse":true,"nice":false,"zero":false},"axis":{"values":[10,20,30,40,50,60,70,80,90],"labels":false,"ticks":false,"domain":false,"grid":true,"gridColor":"#d4d4d4","gridDash":[1,2],"gridWidth":0.8,"title":null}},
   "color":{"field":"c","type":"quantitative","scale":{"domain":[0,1],"range":["#3b86f2","#ee3a60"]},
    "legend":{"orient":"none","legendX":10,"legendY":553,"direction":"horizontal","gradientLength":157,"gradientThickness":11,"gradientStrokeColor":"#555","gradientStrokeWidth":1,"values":[0,1],"labelExpr":"datum.value < 0.5 ? '\u00a0\u00a0\u00a0Low' : 'High\u00a0\u00a0\u00a0'","labelFontSize":9,"labelFont":"Liberation Sans","labelColor":"#666","labelOffset":4,"title":["Original value of final predictor as it","appears in input feature set"],"titleOrient":"right","titleFontSize":10.5,"titleFontWeight":"normal","titleFont":"Liberation Sans","titleColor":"#222","titlePadding":17,"titleLineHeight":15}}
  }},
{"width":152,"height":275,"title":{"text":"D","dx":6},"data":{"values":[{"f":10,"t":"Correlation:cingulo-\nopercular network and L\namygdala ROI"},{"f":20,"t":"Correlation: auditory\nnetwork and R\nhippocampal ROI"},{"f":30,"t":"Correlation: default\nnetwork and R ventral\ndiencephalon ROI"},{"f":40,"t":"Gray matter FA L caudal\nACC ROI"}]},
 "mark":{"type":"text","align":"left","baseline":"alphabetic","dx":8,"fontSize":11,"fontWeight":"bold","font":"Liberation Sans","lineBreak":"\n","lineHeight":12.8,"color":"#000"},
 "encoding":{"x":{"value":0},"y":{"field":"f","type":"quantitative","scale":{"domain":[5.229,59.9],"reverse":true,"nice":false,"zero":false},"axis":null},"text":{"field":"t"}}},
{"width":224,"height":275,"data":{"values":[
{"v":-0.083,"y":7,"c":0.5},
{"v":-0.11,"y":8,"c":0.5},{"v":-0.085,"y":8,"c":0.5},{"v":-0.079,"y":8,"c":0.5},{"v":-0.048,"y":8,"c":0.5},
{"v":-0.12,"y":9,"c":0},{"v":-0.105,"y":9,"c":0.5},{"v":-0.099,"y":9,"c":0.5},{"v":-0.093,"y":9,"c":0.45},{"v":-0.087,"y":9,"c":0.5},{"v":-0.081,"y":9,"c":0.55},{"v":-0.075,"y":9,"c":0.5},{"v":-0.057,"y":9,"c":0.5},{"v":-0.05,"y":9,"c":0.55},{"v":-0.044,"y":9,"c":0.5},{"v":-0.035,"y":9,"c":0.5},{"v":-0.017,"y":9,"c":0.8},{"v":-0.008,"y":9,"c":0.5},{"v":0.071,"y":9,"c":0},{"v":0.113,"y":9,"c":0},{"v":0.124,"y":9,"c":0},{"v":0.137,"y":9,"c":0},{"v":0.165,"y":9,"c":1},
{"v":-0.129,"y":10,"c":0.3},{"v":-0.123,"y":10,"c":0.5},{"v":-0.117,"y":10,"c":0.5},{"v":-0.111,"y":10,"c":0.45},{"v":-0.105,"y":10,"c":0.5},{"v":-0.099,"y":10,"c":0.55},{"v":-0.093,"y":10,"c":0.5},{"v":-0.087,"y":10,"c":0.5},{"v":-0.081,"y":10,"c":0.45},{"v":-0.075,"y":10,"c":0.5},{"v":-0.057,"y":10,"c":0.5},{"v":-0.05,"y":10,"c":0.55},{"v":-0.044,"y":10,"c":0.5},{"v":-0.037,"y":10,"c":0.5},{"v":-0.03,"y":10,"c":0.55},{"v":-0.019,"y":10,"c":0.8},{"v":0,"y":10,"c":0.5},{"v":0.018,"y":10,"c":0},{"v":0.031,"y":10,"c":0},{"v":0.049,"y":10,"c":0.5},{"v":0.053,"y":10,"c":0},{"v":0.068,"y":10,"c":0},{"v":0.096,"y":10,"c":1},{"v":0.106,"y":10,"c":0.9},{"v":0.112,"y":10,"c":0.8},{"v":0.124,"y":10,"c":1},{"v":0.133,"y":10,"c":0.9},{"v":0.14,"y":10,"c":1},{"v":0.155,"y":10,"c":0.5},{"v":0.168,"y":10,"c":1},{"v":0.175,"y":10,"c":0.9},{"v":0.19,"y":10,"c":1},{"v":0.203,"y":10,"c":0},{"v":0.234,"y":10,"c":1},{"v":0.254,"y":10,"c":0},{"v":0.285,"y":10,"c":1},{"v":0.328,"y":10,"c":0},{"v":0.396,"y":10,"c":0},
{"v":-0.105,"y":11,"c":0.5},{"v":-0.096,"y":11,"c":0.5},{"v":-0.088,"y":11,"c":0.5},{"v":-0.079,"y":11,"c":0.5},{"v":-0.057,"y":11,"c":0.5},{"v":-0.048,"y":11,"c":0.5},
{"v":-0.085,"y":12,"c":0.5},{"v":-0.044,"y":12,"c":0.5},{"v":-0.085,"y":13,"c":0.5},
{"v":-0.029,"y":17,"c":0.8},
{"v":-0.042,"y":18,"c":0.8},{"v":-0.03,"y":18,"c":0.7},{"v":-0.022,"y":18,"c":0.5},
{"v":-0.097,"y":19,"c":1},{"v":-0.05,"y":19,"c":0.5},{"v":-0.04,"y":19,"c":0.6},{"v":-0.03,"y":19,"c":0.5},{"v":-0.022,"y":19,"c":0.55},{"v":-0.01,"y":19,"c":0.5},{"v":0.004,"y":19,"c":0.6},{"v":0.014,"y":19,"c":0.5},{"v":0.036,"y":19,"c":0.45},{"v":0.047,"y":19,"c":0.5},{"v":0.093,"y":19,"c":0},
{"v":-0.097,"y":20,"c":1},{"v":-0.091,"y":20,"c":1},{"v":-0.084,"y":20,"c":0.9},{"v":-0.076,"y":20,"c":1},{"v":-0.052,"y":20,"c":0.6},{"v":-0.045,"y":20,"c":0.5},{"v":-0.038,"y":20,"c":0.55},{"v":-0.031,"y":20,"c":0.5},{"v":-0.024,"y":20,"c":0.6},{"v":-0.017,"y":20,"c":0.5},{"v":-0.01,"y":20,"c":0.45},{"v":-0.003,"y":20,"c":0.5},{"v":0.004,"y":20,"c":0.6},{"v":0.011,"y":20,"c":0.5},{"v":0.018,"y":20,"c":0.45},{"v":0.025,"y":20,"c":0.4},{"v":0.032,"y":20,"c":0.5},{"v":0.039,"y":20,"c":0.4},{"v":0.046,"y":20,"c":0.45},{"v":0.053,"y":20,"c":0.35},{"v":0.06,"y":20,"c":0.3},{"v":0.067,"y":20,"c":0.3},{"v":0.08,"y":20,"c":0},{"v":0.093,"y":20,"c":0},{"v":0.142,"y":20,"c":0},{"v":0.148,"y":20,"c":0},{"v":0.153,"y":20,"c":0},{"v":0.159,"y":20,"c":0},{"v":0.18,"y":20,"c":0},
{"v":-0.05,"y":21,"c":0.55},{"v":-0.04,"y":21,"c":0.6},{"v":-0.03,"y":21,"c":0.5},{"v":-0.022,"y":21,"c":0.8},{"v":-0.013,"y":21,"c":0.5},{"v":0.036,"y":21,"c":0.5},{"v":0.049,"y":21,"c":0.55},
{"v":-0.029,"y":22,"c":1},
{"v":-0.044,"y":27,"c":0.5},{"v":-0.032,"y":27,"c":0.5},
{"v":-0.048,"y":28,"c":0.5},{"v":-0.039,"y":28,"c":0.55},{"v":-0.029,"y":28,"c":0.5},{"v":-0.008,"y":28,"c":0.5},
{"v":-0.048,"y":29,"c":0.6},{"v":-0.039,"y":29,"c":0.5},{"v":-0.03,"y":29,"c":0.55},{"v":-0.022,"y":29,"c":0.7},{"v":-0.013,"y":29,"c":0.5},{"v":0.009,"y":29,"c":1},{"v":0.021,"y":29,"c":0.9},{"v":0.036,"y":29,"c":0.3},{"v":0.053,"y":29,"c":0.5},
{"v":-0.061,"y":30,"c":0.8},{"v":-0.054,"y":30,"c":0.5},{"v":-0.047,"y":30,"c":0.55},{"v":-0.04,"y":30,"c":0.5},{"v":-0.033,"y":30,"c":0.6},{"v":-0.026,"y":30,"c":0.5},{"v":-0.019,"y":30,"c":0.55},{"v":-0.012,"y":30,"c":0.5},{"v":-0.005,"y":30,"c":0.6},{"v":0.002,"y":30,"c":0.5},{"v":0.009,"y":30,"c":0.8},{"v":0.016,"y":30,"c":0.7},{"v":0.023,"y":30,"c":0.9},{"v":0.03,"y":30,"c":0.5},{"v":0.037,"y":30,"c":0.6},{"v":0.044,"y":30,"c":0.3},{"v":0.05,"y":30,"c":0.2},{"v":0.097,"y":30,"c":0},{"v":0.106,"y":30,"c":0},{"v":0.121,"y":30,"c":1},{"v":0.137,"y":30,"c":1},{"v":0.162,"y":30,"c":1},{"v":0.177,"y":30,"c":1},{"v":0.24,"y":30,"c":0},{"v":0.261,"y":30,"c":0},
{"v":-0.048,"y":31,"c":0.5},{"v":-0.039,"y":31,"c":0.5},{"v":-0.026,"y":31,"c":0.55},{"v":-0.008,"y":31,"c":0.5},{"v":0.009,"y":31,"c":1},{"v":0.053,"y":31,"c":0.8},
{"v":-0.048,"y":32,"c":0.5},{"v":-0.039,"y":32,"c":0.5},{"v":-0.026,"y":32,"c":0.55},{"v":-0.013,"y":32,"c":0.5},{"v":-0.044,"y":33,"c":0.5},
{"v":0.002,"y":37,"c":0},
{"v":-0.017,"y":38,"c":0.3},{"v":-0.006,"y":38,"c":0},{"v":0.005,"y":38,"c":0.3},{"v":0.016,"y":38,"c":0.5},
{"v":-0.026,"y":39,"c":0.5},{"v":-0.017,"y":39,"c":0.3},{"v":-0.008,"y":39,"c":0.6},{"v":0.001,"y":39,"c":0.2},{"v":0.009,"y":39,"c":0},{"v":0.018,"y":39,"c":0.5},{"v":0.036,"y":39,"c":0.8},
{"v":-0.032,"y":40,"c":0.5},{"v":-0.026,"y":40,"c":0.45},{"v":-0.02,"y":40,"c":0.6},{"v":-0.014,"y":40,"c":0.3},{"v":-0.008,"y":40,"c":0.5},{"v":-0.002,"y":40,"c":0.2},{"v":0.004,"y":40,"c":0},{"v":0.01,"y":40,"c":0.3},{"v":0.016,"y":40,"c":0},{"v":0.022,"y":40,"c":0.2},{"v":0.028,"y":40,"c":0.1},{"v":0.034,"y":40,"c":0},{"v":0.04,"y":40,"c":0.3},{"v":0.053,"y":40,"c":1},{"v":0.06,"y":40,"c":0.9},{"v":0.068,"y":40,"c":1},{"v":0.089,"y":40,"c":1},{"v":0.109,"y":40,"c":0.9},{"v":0.118,"y":40,"c":1},
{"v":-0.022,"y":41,"c":0.4},{"v":-0.013,"y":41,"c":0},{"v":-0.004,"y":41,"c":0.3},{"v":0.005,"y":41,"c":0},{"v":0.014,"y":41,"c":0.5},{"v":0.027,"y":41,"c":0},
{"v":-0.017,"y":42,"c":0},{"v":0.002,"y":42,"c":0}
 ]},"mark":{"type":"circle","size":8,"opacity":1},
  "encoding":{
   "x":{"field":"v","type":"quantitative","scale":{"domain":[-0.163,0.43],"nice":false,"zero":false},"axis":{"offset":-40.7,"domain":true,"domainColor":"#666","grid":true,"gridColor":{"condition":{"test":"datum.value === 0","value":"#a0a0a0"},"value":"transparent"},"gridWidth":1.3,"tickSize":3,"tickColor":"#777","labelFontSize":6.6,"labelFont":"DejaVu Sans","labelColor":"#555","labelPadding":2,"values":[-0.1,0,0.1,0.2,0.3,0.4],"format":".1f","title":null}},
   "y":{"field":"y","type":"quantitative","scale":{"domain":[5.701,57.78],"reverse":true,"nice":false,"zero":false},"axis":{"values":[10,20,30,40],"labels":false,"ticks":false,"domain":false,"grid":true,"gridColor":"#d4d4d4","gridDash":[1,2],"gridWidth":0.8,"title":null}},
   "color":{"field":"c","type":"quantitative","scale":{"domain":[0,1],"range":["#3b86f2","#ee3a60"]},
    "legend":{"orient":"none","legendX":10,"legendY":553,"direction":"horizontal","gradientLength":157,"gradientThickness":11,"gradientStrokeColor":"#555","gradientStrokeWidth":1,"values":[0,1],"labelExpr":"datum.value < 0.5 ? '\u00a0\u00a0\u00a0Low' : 'High\u00a0\u00a0\u00a0'","labelFontSize":9,"labelFont":"Liberation Sans","labelColor":"#666","labelOffset":4,"title":["Original value of final predictor as it","appears in input feature set"],"titleOrient":"right","titleFontSize":10.5,"titleFontWeight":"normal","titleFont":"Liberation Sans","titleColor":"#222","titlePadding":17,"titleLineHeight":15}}
  }}
],"spacing":0,"bounds":"flush"}
]
}
